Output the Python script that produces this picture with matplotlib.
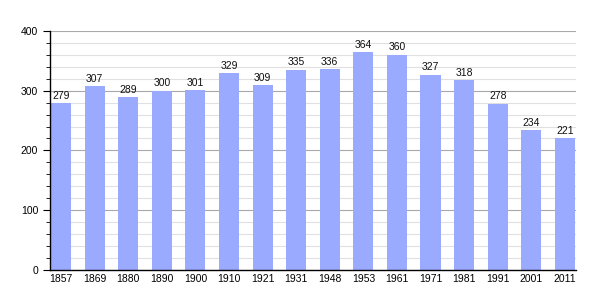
import matplotlib
matplotlib.use("Agg")
import matplotlib.pyplot as plt
from matplotlib.ticker import MultipleLocator

plt.rcParams["font.family"] = ["Liberation Sans", "DejaVu Sans"]

years = ["1857", "1869", "1880", "1890", "1900", "1910", "1921", "1931",
         "1948", "1953", "1961", "1971", "1981", "1991", "2001", "2011"]
population = [279, 307, 289, 300, 301, 329, 309, 335, 336, 364, 360, 327, 318, 278, 234, 221]

fig = plt.figure(figsize=(6.05, 3.0), dpi=100)
ax = fig.add_axes([0.0826, 0.1, 0.8694, 0.797])

x = list(range(len(years)))
ax.bar(x, population, width=0.6, color="#99aaff", zorder=2)
for xi, v in zip(x, population):
    ax.text(xi, v + 4, str(v), ha="center", va="bottom", fontsize=7.5, color="#111111", zorder=3)

ax.set_xlim(-0.33, len(years) - 1 + 0.33)
ax.set_ylim(0, 400)
ax.set_xticks(x)
ax.set_xticklabels(years, fontsize=7.5)
ax.yaxis.set_major_locator(MultipleLocator(100))
ax.yaxis.set_minor_locator(MultipleLocator(20))
ax.tick_params(axis="y", which="major", labelsize=7.5, length=5, direction="out")
ax.tick_params(axis="y", which="minor", length=3, direction="out")
ax.tick_params(axis="x", length=0, pad=3)
ax.grid(axis="y", which="major", color="#a8a8a8", linewidth=0.8, zorder=0)
ax.grid(axis="y", which="minor", color="#e0e0e0", linewidth=0.8, zorder=0)
ax.set_axisbelow(True)
for s in ["top", "right"]:
    ax.spines[s].set_visible(False)
ax.spines["left"].set_linewidth(1.0)
ax.spines["bottom"].set_linewidth(1.0)

fig.savefig("out.png", dpi=100)
